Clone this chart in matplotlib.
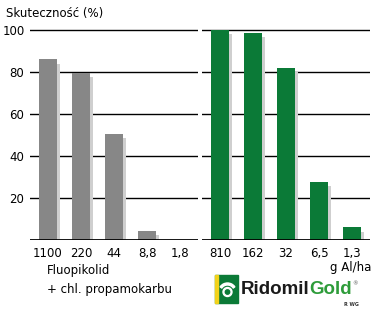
import matplotlib
matplotlib.use("Agg")
import matplotlib.pyplot as plt
from matplotlib.patches import Rectangle, Circle, Wedge

plt.rcParams['font.family'] = ['DejaVu Sans']

left_labels = ["1100", "220", "44", "8,8", "1,8"]
left_values = [86, 79.5, 50.5, 4.5, 0]
right_labels = ["810", "162", "32", "6,5", "1,3"]
right_values = [100, 98.5, 82, 27.5, 6]
yticks = [20, 40, 60, 80, 100]

W, H = 378, 312
fig = plt.figure(figsize=(W / 100, H / 100), dpi=100)

grey = "#878787"
shadow = "#cfcfcf"
green = "#0b7a37"

def px_axes(x0, x1, ybot, ytop):
    return fig.add_axes([x0 / W, 1 - ybot / H, (x1 - x0) / W, (ybot - ytop) / H])

ymax = 103
ytop_px = 240 - ymax * 2.1

def draw_panel(ax, labels, values, color, show_y):
    xs = list(range(len(values)))
    ax.set_xlim(-0.545, 4.545)
    ax.set_ylim(0, ymax)
    for y in yticks:
        ax.axhline(y, color="black", lw=1.0, zorder=0)
    ax.bar([x + 0.09 for x in xs], [max(v - 2, 0) for v in values], width=0.55,
           color=shadow, zorder=1)
    ax.bar(xs, values, width=0.55, color=color, zorder=2)
    ax.axhline(0, color="black", lw=2.0, zorder=3)
    for s in ax.spines.values():
        s.set_visible(False)
    ax.set_xticks(xs)
    ax.set_xticklabels(labels, fontsize=8.5)
    ax.tick_params(axis="x", length=0, pad=5)
    if show_y:
        ax.set_yticks(yticks)
        ax.set_yticklabels([str(y) for y in yticks], fontsize=8.5)
        ax.tick_params(axis="y", length=0, pad=4)
    else:
        ax.set_yticks([])
    ax.patch.set_alpha(0)

axL = px_axes(30, 198, 240, ytop_px)
draw_panel(axL, left_labels, left_values, grey, True)
axR = px_axes(202, 370, 240, ytop_px)
draw_panel(axR, right_labels, right_values, green, False)

fig.text(6 / W, 1 - 13 / H, "Skuteczność (%)", fontsize=8.5, va="center", ha="left")
fig.text(47 / W, 1 - 280 / H, "Fluopikolid\n+ chl. propamokarbu", fontsize=8.5,
         va="center", ha="left", linespacing=1.55)
fig.text(371 / W, 1 - 268 / H, "g Al/ha", fontsize=8.5, va="center", ha="right")

# logo
lax = fig.add_axes([0, 0, 1, 1])
lax.set_xlim(0, W)
lax.set_ylim(H, 0)
lax.axis("off")
lax.add_patch(Rectangle((215, 275), 23, 28, color=green))
lax.add_patch(Rectangle((215, 275), 3, 28, color="#f2d21b"))
lax.add_patch(Circle((227.5, 292), 4.5, color="white"))
lax.add_patch(Circle((227.5, 292), 2.2, color=green))
lax.add_patch(Wedge((227.5, 292), 9, 215, 325, width=2, color="white"))
logo_font = ['Liberation Sans', 'DejaVu Sans']
t1 = lax.text(241, 290, "Ridomil", fontsize=13.5, fontweight="bold", color="#1a1a1a",
              va="center", ha="left", family=logo_font)
t2 = lax.annotate("Gold", xy=(1, 0.5), xycoords=t1, fontsize=13.5, fontweight="bold",
                  color="#2e9c3a", va="center", ha="left", family=logo_font)
lax.annotate("®", xy=(1, 0.85), xycoords=t2, fontsize=4, color="#555555",
             va="center", ha="left")
lax.text(344, 305, "R WG", fontsize=3.5, fontweight="bold", color="#333333",
         va="center", ha="left")

fig.savefig("out.png", dpi=100)
